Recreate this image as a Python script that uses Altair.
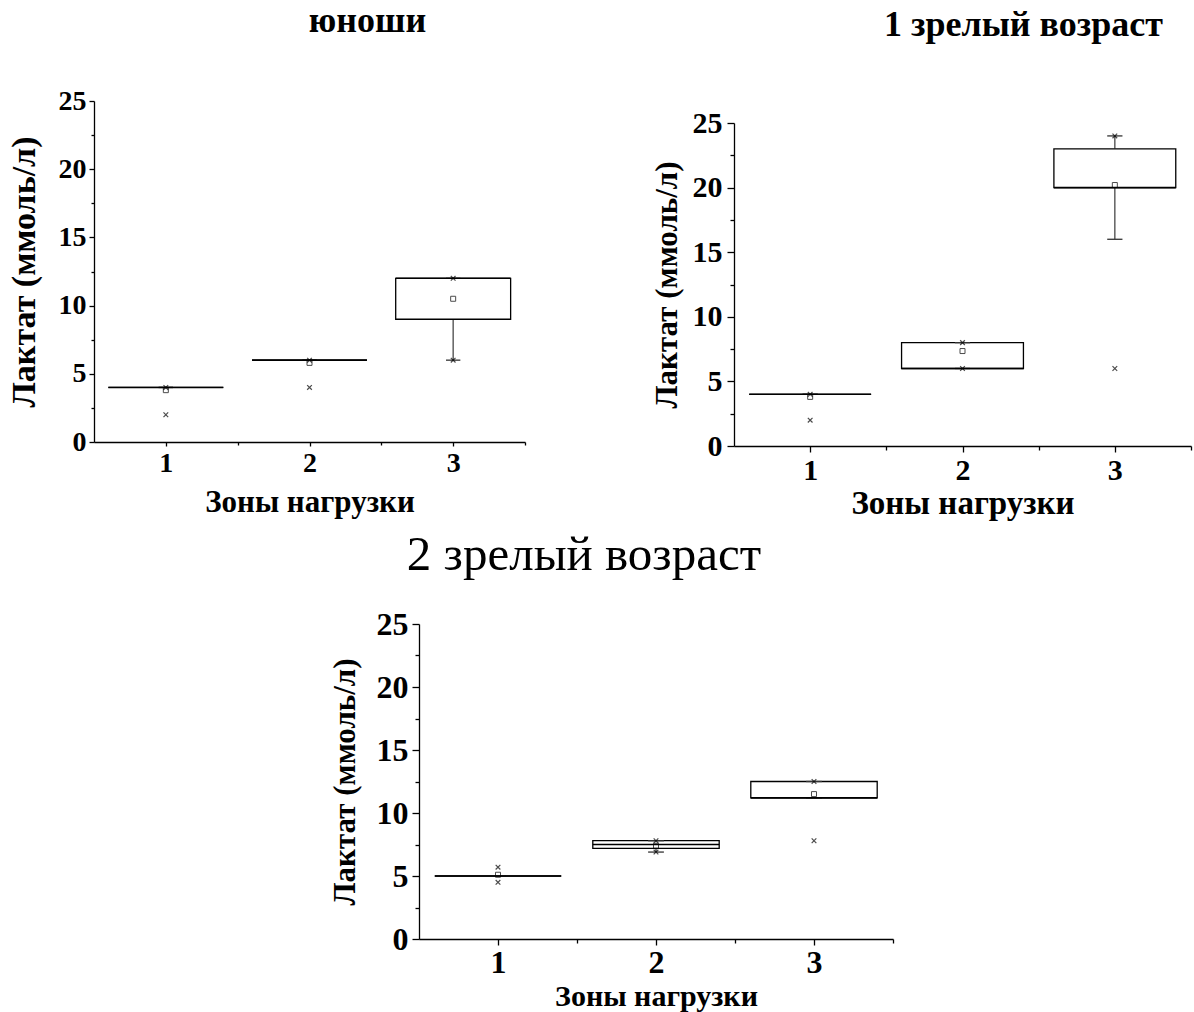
import altair as alt
import pandas as pd

zones = [1, 2, 3]

# юноши
a_q1 = [4, 6, 9]
a_q3 = [4, 6, 12]
a_med = [4, 6, 12]
a_mean = [3.8, 5.8, 10.5]
a_wlo = [4, 6, 6]
a_whi = [4, 6, 12]
a_min = [2, 4, 6]
a_max = [4, 6, 12]

# 1 зрелый возраст
b_q1 = [4, 6, 20]
b_q3 = [4, 8, 23]
b_med = [4, 6, 20]
b_mean = [3.8, 7.35, 20.2]
b_wlo = [4, 6, 16]
b_whi = [4, 8, 24]
b_min = [2, 6, 6]
b_max = [4, 8, 24]

# 2 зрелый возраст
c_q1 = [5, 7.2, 11.2]
c_q3 = [5, 7.8, 12.5]
c_med = [5, 7.5, 11.2]
c_mean = [5.1, 7.4, 11.5]
c_wlo = [5, 6.9, 11.2]
c_whi = [5, 7.8, 12.5]
c_min = [4.5, 6.9, 7.8]
c_max = [5.7, 7.8, 12.5]

x_ticks = [1, 1.5, 2, 2.5, 3, 3.5]
y_ticks = [0, 2.5, 5, 7.5, 10, 12.5, 15, 17.5, 20, 22.5, 25]

X_TITLE = "Зоны нагрузки"
Y_TITLE = "Лактат (ммоль/л)"
FONT = "Liberation Serif"
XPATH = "M -1 -1 L 1 1 M -1 1 L 1 -1"


def panel(q1, q3, med, mean, wlo, whi, vmin, vmax, width, height,
          tick_fs, xt_fs, yt_fs, title, title_fs, title_weight, title_dx,
          title_offset, xlab_pad, xtitle_pad, ylab_pad, ytitle_pad, tmaj, tmin):
    df = pd.DataFrame(dict(zone=zones, q1=q1, q3=q3, med=med, mean=mean,
                           wlo=wlo, whi=whi, vmin=vmin, vmax=vmax))
    xs = alt.Scale(domain=[0.5, 3.5], nice=False, zero=False)
    ys = alt.Scale(domain=[0, 25], nice=False, zero=False)
    xaxis = alt.Axis(
        values=x_ticks,
        labelExpr="datum.value % 1 === 0 ? format(datum.value, 'd') : ''",
        tickSize={"condition": {"test": "datum.value % 1 === 0", "value": tmaj - 1}, "value": tmin},
        grid=False, labelOverlap=False, labelFlush=False, labelBound=False,
        labelFont=FONT, labelFontWeight="bold", labelFontSize=tick_fs, labelColor="black",
        titleFont=FONT, titleFontWeight="bold", titleFontSize=xt_fs, titleColor="black",
        labelPadding=xlab_pad, titlePadding=xtitle_pad,
        domainColor="black", domainWidth=1.3, tickColor="black", tickWidth=1.3,
    )
    yaxis = alt.Axis(
        values=y_ticks,
        labelExpr="datum.value % 5 === 0 ? format(datum.value, 'd') : ''",
        tickSize={"condition": {"test": "datum.value % 5 === 0", "value": tmaj}, "value": tmin},
        grid=False, labelOverlap=False, labelFlush=False, labelBound=False,
        labelFont=FONT, labelFontWeight="bold", labelFontSize=tick_fs, labelColor="black",
        titleFont=FONT, titleFontWeight="bold", titleFontSize=yt_fs, titleColor="black",
        labelPadding=ylab_pad, titlePadding=ytitle_pad,
        domainColor="black", domainWidth=1.3, tickColor="black", tickWidth=1.3,
    )

    def X(f):
        return alt.X(f"{f}:Q", scale=xs, axis=xaxis, title=X_TITLE)

    def Y(f):
        return alt.Y(f"{f}:Q", scale=ys, axis=yaxis, title=Y_TITLE)

    base = alt.Chart(df).transform_calculate(
        xl="datum.zone - 0.4", xr="datum.zone + 0.4",
        cl="datum.zone - 0.05", cr="datum.zone + 0.05",
    )
    wl = base.mark_rule(color="#555555", strokeWidth=1.4).encode(x=X("zone"), y=Y("wlo"), y2="q1:Q")
    wh = base.mark_rule(color="#555555", strokeWidth=1.4).encode(x=X("zone"), y=Y("q3"), y2="whi:Q")
    cap_l = base.mark_rule(color="#333333", strokeWidth=1.3).encode(x=X("cl"), x2="cr:Q", y=Y("wlo"))
    cap_h = base.mark_rule(color="#333333", strokeWidth=1.3).encode(x=X("cl"), x2="cr:Q", y=Y("whi"))
    box = base.mark_rect(fill="white", stroke="black", strokeWidth=1.3).encode(
        x=X("xl"), x2="xr:Q", y=Y("q1"), y2="q3:Q")
    mline = base.mark_rule(color="black", strokeWidth=1.6).encode(x=X("xl"), x2="xr:Q", y=Y("med"))
    mpt = base.mark_point(shape="square", filled=False, size=25, color="black", strokeWidth=1).encode(
        x=X("zone"), y=Y("mean"))
    pmin = base.mark_point(shape=XPATH, filled=False, size=22, color="black", strokeWidth=1.2).encode(
        x=X("zone"), y=Y("vmin"))
    pmax = base.mark_point(shape=XPATH, filled=False, size=22, color="black", strokeWidth=1.2).encode(
        x=X("zone"), y=Y("vmax"))
    return alt.layer(wl, wh, box, cap_l, cap_h, mline, mpt, pmin, pmax).properties(
        width=width, height=height,
        title=alt.TitleParams(text=title, font=FONT, fontSize=title_fs, fontWeight=title_weight,
                              color="black", anchor="middle", dx=title_dx, offset=title_offset),
    )


def spacer(w, h):
    return alt.Chart(pd.DataFrame({"v": [0]})).mark_point(opacity=0).encode(
        x=alt.value(0), y=alt.value(0)).properties(width=w, height=h)


p1 = panel(a_q1, a_q3, a_med, a_mean, a_wlo, a_whi, a_min, a_max, 431, 341,
           28, 31, 34, "юноши", 36, "bold", 58, 47, 3, 10, 3, 17, 5, 3)
p2 = panel(b_q1, b_q3, b_med, b_mean, b_wlo, b_whi, b_min, b_max, 457, 323,
           30, 33, 31, "1 зрелый возраст", 36, "bold", 61, 64, 3, 2, 5, 9, 7, 4)
p3 = panel(c_q1, c_q3, c_med, c_mean, c_wlo, c_whi, c_min, c_max, 474, 315,
           32, 30, 31, "2 зрелый возраст", 49, "normal", -72, 28, 2, 3, 4, 15, 7, 4)

top = alt.hconcat(p1, alt.vconcat(spacer(457, 22), p2, spacing=0, bounds="flush"),
                  spacing=209, bounds="flush")
bottom = alt.hconcat(spacer(325, 10), p3, spacing=0, bounds="flush")
chart = alt.vconcat(top, bottom, spacing=9, bounds="full").properties(
    padding={"left": 6, "top": 2, "right": 0, "bottom": 0}
).configure_view(stroke="transparent")

chart.save("out.html", embed_options={"renderer": "svg", "actions": False})
